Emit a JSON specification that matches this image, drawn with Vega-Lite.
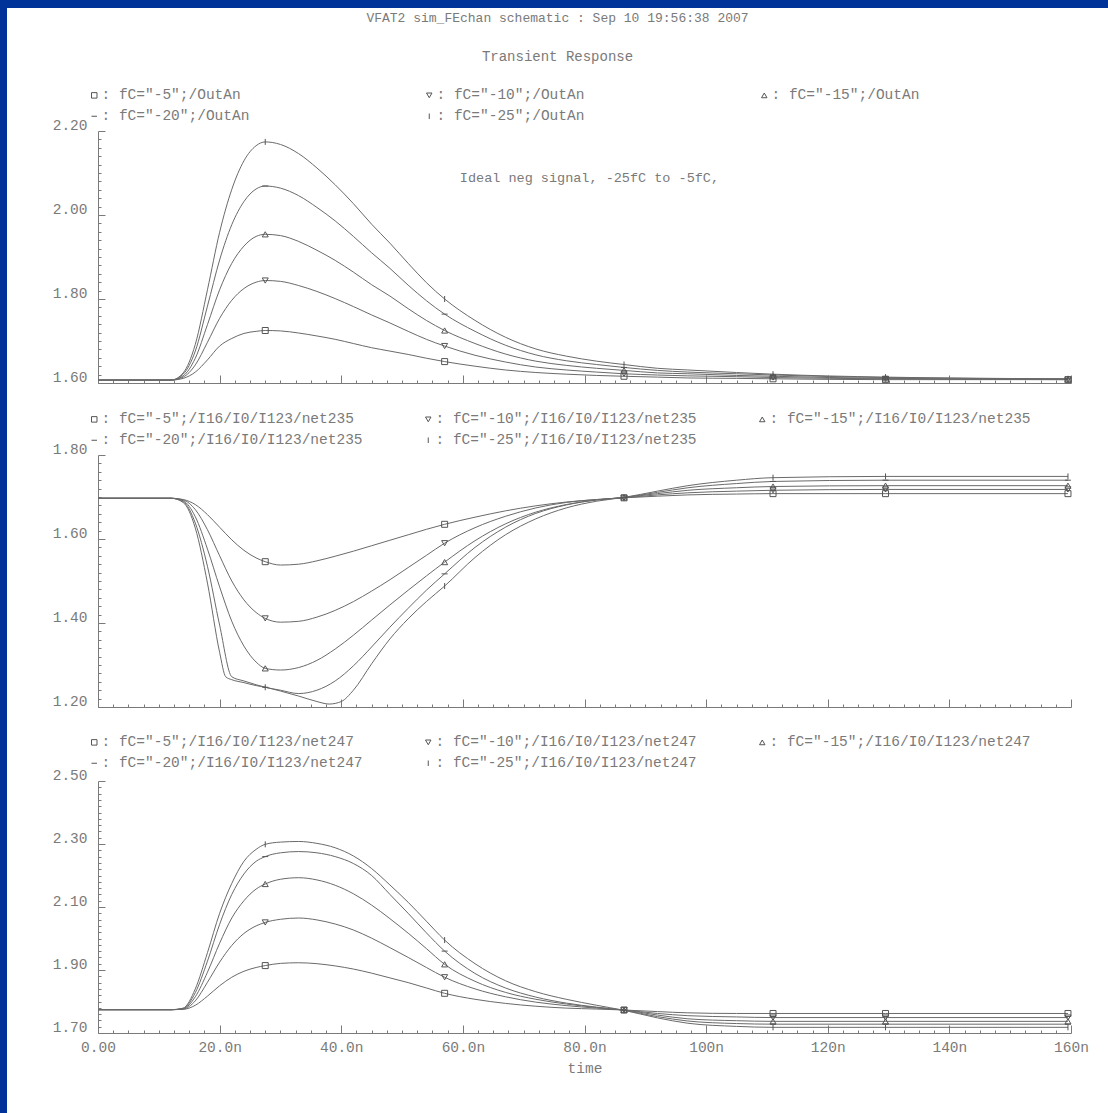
{
"$schema": "https://vega.github.io/schema/vega-lite/v6.json",
"width": 1101,
"height": 1105,
"autosize": {"type": "none"},
"padding": {"left": 7, "top": 8, "right": 0, "bottom": 0},
"background": "#003399",
"config": {
  "view": {"fill": "white", "stroke": null},
  "font": "Liberation Mono",
  "axis": {"domainColor": "#7a7a7a", "tickColor": "#7a7a7a", "labelColor": "#7a7a7a", "titleColor": "#7a7a7a", "labelFont": "Liberation Mono", "titleFont": "Liberation Mono", "labelFontSize": 14.5, "titleFontSize": 14.5, "titleFontWeight": "normal", "grid": false, "domainWidth": 1, "tickWidth": 1, "labelFlush": false, "labelOverlap": false, "labelBound": false},
  "legend": {"labelFont": "Liberation Mono", "labelFontSize": 14.5, "labelColor": "#7a7a7a", "padding": 0, "labelLimit": 0}
},
"title": {"text": "VFAT2 sim_FEchan schematic : Sep 10 19:56:38 2007", "subtitle": "Transient Response", "anchor": "middle", "orient": "top", "offset": -56, "frame": "group", "font": "Liberation Mono", "fontSize": 13, "fontWeight": "normal", "color": "#7a7a7a", "subtitleFont": "Liberation Mono", "subtitleFontSize": 14, "subtitleColor": "#7a7a7a", "subtitlePadding": 25},
"datasets": {
"curves": [
{"p":1,"q":5,"t":0,"v":1.607},{"p":1,"q":5,"t":12,"v":1.607},{"p":1,"q":5,"t":14,"v":1.611},{"p":1,"q":5,"t":16,"v":1.626},{"p":1,"q":5,"t":18,"v":1.655},{"p":1,"q":5,"t":20,"v":1.688},{"p":1,"q":5,"t":22,"v":1.706},{"p":1,"q":5,"t":24,"v":1.718},{"p":1,"q":5,"t":26,"v":1.723},{"p":1,"q":5,"t":27.5,"v":1.725},{"p":1,"q":5,"t":30,"v":1.724},{"p":1,"q":5,"t":33,"v":1.719},{"p":1,"q":5,"t":36,"v":1.712},{"p":1,"q":5,"t":39,"v":1.704},{"p":1,"q":5,"t":42,"v":1.694},{"p":1,"q":5,"t":45,"v":1.684},{"p":1,"q":5,"t":48,"v":1.676},{"p":1,"q":5,"t":51,"v":1.668},{"p":1,"q":5,"t":54,"v":1.659},{"p":1,"q":5,"t":57,"v":1.651},{"p":1,"q":5,"t":62,"v":1.640},{"p":1,"q":5,"t":67,"v":1.631},{"p":1,"q":5,"t":72,"v":1.625},{"p":1,"q":5,"t":77,"v":1.621},{"p":1,"q":5,"t":82,"v":1.618},{"p":1,"q":5,"t":86.5,"v":1.616},{"p":1,"q":5,"t":92,"v":1.614},{"p":1,"q":5,"t":97,"v":1.612},{"p":1,"q":5,"t":105,"v":1.611},{"p":1,"q":5,"t":111,"v":1.610},{"p":1,"q":5,"t":129.5,"v":1.608},{"p":1,"q":5,"t":159.5,"v":1.608},
{"p":1,"q":10,"t":0,"v":1.607},{"p":1,"q":10,"t":12,"v":1.607},{"p":1,"q":10,"t":14,"v":1.614},{"p":1,"q":10,"t":16,"v":1.643},{"p":1,"q":10,"t":18,"v":1.697},{"p":1,"q":10,"t":20,"v":1.754},{"p":1,"q":10,"t":22,"v":1.797},{"p":1,"q":10,"t":24,"v":1.825},{"p":1,"q":10,"t":26,"v":1.840},{"p":1,"q":10,"t":27.5,"v":1.844},{"p":1,"q":10,"t":30,"v":1.842},{"p":1,"q":10,"t":33,"v":1.832},{"p":1,"q":10,"t":36,"v":1.818},{"p":1,"q":10,"t":39,"v":1.801},{"p":1,"q":10,"t":42,"v":1.782},{"p":1,"q":10,"t":45,"v":1.762},{"p":1,"q":10,"t":48,"v":1.743},{"p":1,"q":10,"t":51,"v":1.723},{"p":1,"q":10,"t":54,"v":1.704},{"p":1,"q":10,"t":57,"v":1.688},{"p":1,"q":10,"t":62,"v":1.666},{"p":1,"q":10,"t":67,"v":1.650},{"p":1,"q":10,"t":72,"v":1.638},{"p":1,"q":10,"t":77,"v":1.631},{"p":1,"q":10,"t":82,"v":1.626},{"p":1,"q":10,"t":86.5,"v":1.622},{"p":1,"q":10,"t":92,"v":1.619},{"p":1,"q":10,"t":97,"v":1.617},{"p":1,"q":10,"t":105,"v":1.615},{"p":1,"q":10,"t":111,"v":1.613},{"p":1,"q":10,"t":129.5,"v":1.610},{"p":1,"q":10,"t":159.5,"v":1.608},
{"p":1,"q":15,"t":0,"v":1.607},{"p":1,"q":15,"t":12,"v":1.607},{"p":1,"q":15,"t":14,"v":1.617},{"p":1,"q":15,"t":16,"v":1.659},{"p":1,"q":15,"t":18,"v":1.739},{"p":1,"q":15,"t":20,"v":1.822},{"p":1,"q":15,"t":22,"v":1.885},{"p":1,"q":15,"t":24,"v":1.926},{"p":1,"q":15,"t":26,"v":1.949},{"p":1,"q":15,"t":27.5,"v":1.954},{"p":1,"q":15,"t":30,"v":1.951},{"p":1,"q":15,"t":33,"v":1.937},{"p":1,"q":15,"t":36,"v":1.916},{"p":1,"q":15,"t":39,"v":1.892},{"p":1,"q":15,"t":42,"v":1.864},{"p":1,"q":15,"t":45,"v":1.834},{"p":1,"q":15,"t":48,"v":1.807},{"p":1,"q":15,"t":51,"v":1.777},{"p":1,"q":15,"t":54,"v":1.749},{"p":1,"q":15,"t":57,"v":1.725},{"p":1,"q":15,"t":62,"v":1.694},{"p":1,"q":15,"t":67,"v":1.669},{"p":1,"q":15,"t":72,"v":1.652},{"p":1,"q":15,"t":77,"v":1.642},{"p":1,"q":15,"t":82,"v":1.635},{"p":1,"q":15,"t":86.5,"v":1.630},{"p":1,"q":15,"t":92,"v":1.624},{"p":1,"q":15,"t":97,"v":1.622},{"p":1,"q":15,"t":105,"v":1.618},{"p":1,"q":15,"t":111,"v":1.616},{"p":1,"q":15,"t":129.5,"v":1.611},{"p":1,"q":15,"t":159.5,"v":1.609},
{"p":1,"q":20,"t":0,"v":1.607},{"p":1,"q":20,"t":12,"v":1.607},{"p":1,"q":20,"t":14,"v":1.621},{"p":1,"q":20,"t":16,"v":1.676},{"p":1,"q":20,"t":18,"v":1.783},{"p":1,"q":20,"t":20,"v":1.893},{"p":1,"q":20,"t":22,"v":1.977},{"p":1,"q":20,"t":24,"v":2.032},{"p":1,"q":20,"t":26,"v":2.062},{"p":1,"q":20,"t":27.5,"v":2.069},{"p":1,"q":20,"t":30,"v":2.064},{"p":1,"q":20,"t":33,"v":2.046},{"p":1,"q":20,"t":36,"v":2.018},{"p":1,"q":20,"t":39,"v":1.986},{"p":1,"q":20,"t":42,"v":1.949},{"p":1,"q":20,"t":45,"v":1.910},{"p":1,"q":20,"t":48,"v":1.873},{"p":1,"q":20,"t":51,"v":1.833},{"p":1,"q":20,"t":54,"v":1.796},{"p":1,"q":20,"t":57,"v":1.764},{"p":1,"q":20,"t":62,"v":1.723},{"p":1,"q":20,"t":67,"v":1.690},{"p":1,"q":20,"t":72,"v":1.667},{"p":1,"q":20,"t":77,"v":1.653},{"p":1,"q":20,"t":82,"v":1.644},{"p":1,"q":20,"t":86.5,"v":1.637},{"p":1,"q":20,"t":92,"v":1.630},{"p":1,"q":20,"t":97,"v":1.626},{"p":1,"q":20,"t":105,"v":1.622},{"p":1,"q":20,"t":111,"v":1.619},{"p":1,"q":20,"t":129.5,"v":1.613},{"p":1,"q":20,"t":159.5,"v":1.610},
{"p":1,"q":25,"t":0,"v":1.607},{"p":1,"q":25,"t":12,"v":1.607},{"p":1,"q":25,"t":14,"v":1.624},{"p":1,"q":25,"t":16,"v":1.692},{"p":1,"q":25,"t":18,"v":1.822},{"p":1,"q":25,"t":20,"v":1.959},{"p":1,"q":25,"t":22,"v":2.061},{"p":1,"q":25,"t":24,"v":2.129},{"p":1,"q":25,"t":26,"v":2.165},{"p":1,"q":25,"t":27.5,"v":2.174},{"p":1,"q":25,"t":30,"v":2.168},{"p":1,"q":25,"t":33,"v":2.146},{"p":1,"q":25,"t":36,"v":2.112},{"p":1,"q":25,"t":39,"v":2.072},{"p":1,"q":25,"t":42,"v":2.027},{"p":1,"q":25,"t":45,"v":1.978},{"p":1,"q":25,"t":48,"v":1.933},{"p":1,"q":25,"t":51,"v":1.885},{"p":1,"q":25,"t":54,"v":1.839},{"p":1,"q":25,"t":57,"v":1.800},{"p":1,"q":25,"t":62,"v":1.749},{"p":1,"q":25,"t":67,"v":1.709},{"p":1,"q":25,"t":72,"v":1.681},{"p":1,"q":25,"t":77,"v":1.664},{"p":1,"q":25,"t":82,"v":1.652},{"p":1,"q":25,"t":86.5,"v":1.644},{"p":1,"q":25,"t":92,"v":1.635},{"p":1,"q":25,"t":97,"v":1.631},{"p":1,"q":25,"t":105,"v":1.625},{"p":1,"q":25,"t":111,"v":1.621},{"p":1,"q":25,"t":129.5,"v":1.614},{"p":1,"q":25,"t":159.5,"v":1.610},
{"p":2,"q":5,"t":0,"v":1.697},{"p":2,"q":5,"t":12,"v":1.697},{"p":2,"q":5,"t":14,"v":1.694},{"p":2,"q":5,"t":16,"v":1.682},{"p":2,"q":5,"t":18,"v":1.658},{"p":2,"q":5,"t":20,"v":1.628},{"p":2,"q":5,"t":22,"v":1.598},{"p":2,"q":5,"t":24,"v":1.573},{"p":2,"q":5,"t":26,"v":1.555},{"p":2,"q":5,"t":27.5,"v":1.546},{"p":2,"q":5,"t":30,"v":1.538},{"p":2,"q":5,"t":33,"v":1.540},{"p":2,"q":5,"t":36,"v":1.548},{"p":2,"q":5,"t":39,"v":1.559},{"p":2,"q":5,"t":42,"v":1.571},{"p":2,"q":5,"t":45,"v":1.584},{"p":2,"q":5,"t":48,"v":1.597},{"p":2,"q":5,"t":51,"v":1.610},{"p":2,"q":5,"t":54,"v":1.623},{"p":2,"q":5,"t":57,"v":1.635},{"p":2,"q":5,"t":62,"v":1.652},{"p":2,"q":5,"t":67,"v":1.667},{"p":2,"q":5,"t":72,"v":1.679},{"p":2,"q":5,"t":77,"v":1.688},{"p":2,"q":5,"t":82,"v":1.694},{"p":2,"q":5,"t":86.5,"v":1.698},{"p":2,"q":5,"t":92,"v":1.702},{"p":2,"q":5,"t":97,"v":1.705},{"p":2,"q":5,"t":105,"v":1.707},{"p":2,"q":5,"t":111,"v":1.708},{"p":2,"q":5,"t":129.5,"v":1.708},{"p":2,"q":5,"t":159.5,"v":1.708},
{"p":2,"q":10,"t":0,"v":1.697},{"p":2,"q":10,"t":12,"v":1.697},{"p":2,"q":10,"t":14,"v":1.693},{"p":2,"q":10,"t":16,"v":1.670},{"p":2,"q":10,"t":18,"v":1.622},{"p":2,"q":10,"t":20,"v":1.560},{"p":2,"q":10,"t":22,"v":1.500},{"p":2,"q":10,"t":24,"v":1.455},{"p":2,"q":10,"t":26,"v":1.425},{"p":2,"q":10,"t":27.5,"v":1.411},{"p":2,"q":10,"t":30,"v":1.402},{"p":2,"q":10,"t":33,"v":1.404},{"p":2,"q":10,"t":36,"v":1.414},{"p":2,"q":10,"t":39,"v":1.430},{"p":2,"q":10,"t":42,"v":1.451},{"p":2,"q":10,"t":45,"v":1.476},{"p":2,"q":10,"t":48,"v":1.503},{"p":2,"q":10,"t":51,"v":1.532},{"p":2,"q":10,"t":54,"v":1.561},{"p":2,"q":10,"t":57,"v":1.590},{"p":2,"q":10,"t":62,"v":1.627},{"p":2,"q":10,"t":67,"v":1.654},{"p":2,"q":10,"t":72,"v":1.674},{"p":2,"q":10,"t":77,"v":1.687},{"p":2,"q":10,"t":82,"v":1.694},{"p":2,"q":10,"t":86.5,"v":1.698},{"p":2,"q":10,"t":92,"v":1.705},{"p":2,"q":10,"t":97,"v":1.710},{"p":2,"q":10,"t":105,"v":1.714},{"p":2,"q":10,"t":111,"v":1.716},{"p":2,"q":10,"t":129.5,"v":1.718},{"p":2,"q":10,"t":159.5,"v":1.718},
{"p":2,"q":15,"t":0,"v":1.697},{"p":2,"q":15,"t":12,"v":1.697},{"p":2,"q":15,"t":14,"v":1.691},{"p":2,"q":15,"t":16,"v":1.653},{"p":2,"q":15,"t":18,"v":1.576},{"p":2,"q":15,"t":20,"v":1.486},{"p":2,"q":15,"t":22,"v":1.404},{"p":2,"q":15,"t":24,"v":1.345},{"p":2,"q":15,"t":26,"v":1.307},{"p":2,"q":15,"t":27.5,"v":1.292},{"p":2,"q":15,"t":30,"v":1.288},{"p":2,"q":15,"t":33,"v":1.294},{"p":2,"q":15,"t":36,"v":1.311},{"p":2,"q":15,"t":39,"v":1.338},{"p":2,"q":15,"t":42,"v":1.371},{"p":2,"q":15,"t":45,"v":1.407},{"p":2,"q":15,"t":48,"v":1.443},{"p":2,"q":15,"t":51,"v":1.478},{"p":2,"q":15,"t":54,"v":1.512},{"p":2,"q":15,"t":57,"v":1.545},{"p":2,"q":15,"t":62,"v":1.596},{"p":2,"q":15,"t":67,"v":1.636},{"p":2,"q":15,"t":72,"v":1.664},{"p":2,"q":15,"t":77,"v":1.682},{"p":2,"q":15,"t":82,"v":1.693},{"p":2,"q":15,"t":86.5,"v":1.699},{"p":2,"q":15,"t":92,"v":1.708},{"p":2,"q":15,"t":97,"v":1.716},{"p":2,"q":15,"t":105,"v":1.722},{"p":2,"q":15,"t":111,"v":1.725},{"p":2,"q":15,"t":129.5,"v":1.727},{"p":2,"q":15,"t":159.5,"v":1.727},
{"p":2,"q":20,"t":0,"v":1.697},{"p":2,"q":20,"t":12,"v":1.697},{"p":2,"q":20,"t":14,"v":1.689},{"p":2,"q":20,"t":16,"v":1.638},{"p":2,"q":20,"t":18,"v":1.535},{"p":2,"q":20,"t":20,"v":1.395},{"p":2,"q":20,"t":22,"v":1.272},{"p":2,"q":20,"t":24,"v":1.262},{"p":2,"q":20,"t":26,"v":1.253},{"p":2,"q":20,"t":27.5,"v":1.247},{"p":2,"q":20,"t":30,"v":1.240},{"p":2,"q":20,"t":33,"v":1.232},{"p":2,"q":20,"t":36,"v":1.240},{"p":2,"q":20,"t":39,"v":1.262},{"p":2,"q":20,"t":42,"v":1.298},{"p":2,"q":20,"t":45,"v":1.343},{"p":2,"q":20,"t":48,"v":1.390},{"p":2,"q":20,"t":51,"v":1.435},{"p":2,"q":20,"t":54,"v":1.478},{"p":2,"q":20,"t":57,"v":1.517},{"p":2,"q":20,"t":62,"v":1.580},{"p":2,"q":20,"t":67,"v":1.628},{"p":2,"q":20,"t":72,"v":1.661},{"p":2,"q":20,"t":77,"v":1.681},{"p":2,"q":20,"t":82,"v":1.693},{"p":2,"q":20,"t":86.5,"v":1.699},{"p":2,"q":20,"t":92,"v":1.711},{"p":2,"q":20,"t":97,"v":1.722},{"p":2,"q":20,"t":105,"v":1.732},{"p":2,"q":20,"t":111,"v":1.737},{"p":2,"q":20,"t":129.5,"v":1.740},{"p":2,"q":20,"t":159.5,"v":1.740},
{"p":2,"q":25,"t":0,"v":1.697},{"p":2,"q":25,"t":12,"v":1.697},{"p":2,"q":25,"t":14,"v":1.687},{"p":2,"q":25,"t":16,"v":1.626},{"p":2,"q":25,"t":18,"v":1.495},{"p":2,"q":25,"t":20,"v":1.330},{"p":2,"q":25,"t":21,"v":1.272},{"p":2,"q":25,"t":22,"v":1.265},{"p":2,"q":25,"t":24,"v":1.258},{"p":2,"q":25,"t":26,"v":1.251},{"p":2,"q":25,"t":27.5,"v":1.247},{"p":2,"q":25,"t":30,"v":1.238},{"p":2,"q":25,"t":33,"v":1.226},{"p":2,"q":25,"t":36,"v":1.213},{"p":2,"q":25,"t":38,"v":1.207},{"p":2,"q":25,"t":40,"v":1.213},{"p":2,"q":25,"t":42,"v":1.240},{"p":2,"q":25,"t":45,"v":1.303},{"p":2,"q":25,"t":48,"v":1.362},{"p":2,"q":25,"t":51,"v":1.410},{"p":2,"q":25,"t":54,"v":1.451},{"p":2,"q":25,"t":57,"v":1.488},{"p":2,"q":25,"t":62,"v":1.556},{"p":2,"q":25,"t":67,"v":1.610},{"p":2,"q":25,"t":72,"v":1.648},{"p":2,"q":25,"t":77,"v":1.674},{"p":2,"q":25,"t":82,"v":1.690},{"p":2,"q":25,"t":86.5,"v":1.699},{"p":2,"q":25,"t":92,"v":1.714},{"p":2,"q":25,"t":97,"v":1.727},{"p":2,"q":25,"t":105,"v":1.740},{"p":2,"q":25,"t":111,"v":1.746},{"p":2,"q":25,"t":129.5,"v":1.749},{"p":2,"q":25,"t":159.5,"v":1.749},
{"p":3,"q":5,"t":0,"v":1.774},{"p":3,"q":5,"t":12,"v":1.774},{"p":3,"q":5,"t":14,"v":1.775},{"p":3,"q":5,"t":16,"v":1.788},{"p":3,"q":5,"t":18,"v":1.817},{"p":3,"q":5,"t":20,"v":1.850},{"p":3,"q":5,"t":22,"v":1.877},{"p":3,"q":5,"t":24,"v":1.896},{"p":3,"q":5,"t":26,"v":1.908},{"p":3,"q":5,"t":27.5,"v":1.914},{"p":3,"q":5,"t":30,"v":1.921},{"p":3,"q":5,"t":33,"v":1.923},{"p":3,"q":5,"t":36,"v":1.920},{"p":3,"q":5,"t":39,"v":1.913},{"p":3,"q":5,"t":42,"v":1.903},{"p":3,"q":5,"t":45,"v":1.890},{"p":3,"q":5,"t":48,"v":1.875},{"p":3,"q":5,"t":51,"v":1.860},{"p":3,"q":5,"t":54,"v":1.843},{"p":3,"q":5,"t":57,"v":1.826},{"p":3,"q":5,"t":62,"v":1.807},{"p":3,"q":5,"t":67,"v":1.794},{"p":3,"q":5,"t":72,"v":1.785},{"p":3,"q":5,"t":77,"v":1.779},{"p":3,"q":5,"t":82,"v":1.776},{"p":3,"q":5,"t":86.5,"v":1.773},{"p":3,"q":5,"t":92,"v":1.768},{"p":3,"q":5,"t":97,"v":1.764},{"p":3,"q":5,"t":105,"v":1.762},{"p":3,"q":5,"t":111,"v":1.762},{"p":3,"q":5,"t":129.5,"v":1.762},{"p":3,"q":5,"t":159.5,"v":1.762},
{"p":3,"q":10,"t":0,"v":1.774},{"p":3,"q":10,"t":12,"v":1.774},{"p":3,"q":10,"t":14,"v":1.776},{"p":3,"q":10,"t":16,"v":1.802},{"p":3,"q":10,"t":18,"v":1.861},{"p":3,"q":10,"t":20,"v":1.925},{"p":3,"q":10,"t":22,"v":1.978},{"p":3,"q":10,"t":24,"v":2.016},{"p":3,"q":10,"t":26,"v":2.040},{"p":3,"q":10,"t":27.5,"v":2.051},{"p":3,"q":10,"t":30,"v":2.061},{"p":3,"q":10,"t":33,"v":2.065},{"p":3,"q":10,"t":36,"v":2.059},{"p":3,"q":10,"t":39,"v":2.046},{"p":3,"q":10,"t":42,"v":2.027},{"p":3,"q":10,"t":45,"v":2.001},{"p":3,"q":10,"t":48,"v":1.971},{"p":3,"q":10,"t":51,"v":1.940},{"p":3,"q":10,"t":54,"v":1.908},{"p":3,"q":10,"t":57,"v":1.877},{"p":3,"q":10,"t":62,"v":1.840},{"p":3,"q":10,"t":67,"v":1.815},{"p":3,"q":10,"t":72,"v":1.798},{"p":3,"q":10,"t":77,"v":1.787},{"p":3,"q":10,"t":82,"v":1.779},{"p":3,"q":10,"t":86.5,"v":1.773},{"p":3,"q":10,"t":92,"v":1.762},{"p":3,"q":10,"t":97,"v":1.755},{"p":3,"q":10,"t":105,"v":1.751},{"p":3,"q":10,"t":111,"v":1.749},{"p":3,"q":10,"t":129.5,"v":1.749},{"p":3,"q":10,"t":159.5,"v":1.749},
{"p":3,"q":15,"t":0,"v":1.774},{"p":3,"q":15,"t":12,"v":1.774},{"p":3,"q":15,"t":14,"v":1.777},{"p":3,"q":15,"t":16,"v":1.815},{"p":3,"q":15,"t":18,"v":1.893},{"p":3,"q":15,"t":20,"v":1.985},{"p":3,"q":15,"t":22,"v":2.065},{"p":3,"q":15,"t":24,"v":2.120},{"p":3,"q":15,"t":26,"v":2.157},{"p":3,"q":15,"t":27.5,"v":2.173},{"p":3,"q":15,"t":30,"v":2.188},{"p":3,"q":15,"t":33,"v":2.193},{"p":3,"q":15,"t":36,"v":2.186},{"p":3,"q":15,"t":39,"v":2.169},{"p":3,"q":15,"t":42,"v":2.142},{"p":3,"q":15,"t":45,"v":2.106},{"p":3,"q":15,"t":48,"v":2.063},{"p":3,"q":15,"t":51,"v":2.017},{"p":3,"q":15,"t":54,"v":1.968},{"p":3,"q":15,"t":57,"v":1.918},{"p":3,"q":15,"t":62,"v":1.864},{"p":3,"q":15,"t":67,"v":1.829},{"p":3,"q":15,"t":72,"v":1.807},{"p":3,"q":15,"t":77,"v":1.792},{"p":3,"q":15,"t":82,"v":1.781},{"p":3,"q":15,"t":86.5,"v":1.773},{"p":3,"q":15,"t":92,"v":1.757},{"p":3,"q":15,"t":97,"v":1.745},{"p":3,"q":15,"t":105,"v":1.739},{"p":3,"q":15,"t":111,"v":1.737},{"p":3,"q":15,"t":129.5,"v":1.737},{"p":3,"q":15,"t":159.5,"v":1.737},
{"p":3,"q":20,"t":0,"v":1.774},{"p":3,"q":20,"t":12,"v":1.774},{"p":3,"q":20,"t":14,"v":1.778},{"p":3,"q":20,"t":16,"v":1.828},{"p":3,"q":20,"t":18,"v":1.928},{"p":3,"q":20,"t":20,"v":2.045},{"p":3,"q":20,"t":22,"v":2.140},{"p":3,"q":20,"t":24,"v":2.205},{"p":3,"q":20,"t":26,"v":2.245},{"p":3,"q":20,"t":27.5,"v":2.260},{"p":3,"q":20,"t":30,"v":2.272},{"p":3,"q":20,"t":33,"v":2.276},{"p":3,"q":20,"t":36,"v":2.272},{"p":3,"q":20,"t":39,"v":2.260},{"p":3,"q":20,"t":42,"v":2.238},{"p":3,"q":20,"t":45,"v":2.200},{"p":3,"q":20,"t":48,"v":2.140},{"p":3,"q":20,"t":51,"v":2.080},{"p":3,"q":20,"t":54,"v":2.018},{"p":3,"q":20,"t":57,"v":1.960},{"p":3,"q":20,"t":62,"v":1.889},{"p":3,"q":20,"t":67,"v":1.843},{"p":3,"q":20,"t":72,"v":1.814},{"p":3,"q":20,"t":77,"v":1.795},{"p":3,"q":20,"t":82,"v":1.782},{"p":3,"q":20,"t":86.5,"v":1.772},{"p":3,"q":20,"t":92,"v":1.752},{"p":3,"q":20,"t":97,"v":1.738},{"p":3,"q":20,"t":105,"v":1.730},{"p":3,"q":20,"t":111,"v":1.728},{"p":3,"q":20,"t":129.5,"v":1.728},{"p":3,"q":20,"t":159.5,"v":1.728},
{"p":3,"q":25,"t":0,"v":1.774},{"p":3,"q":25,"t":12,"v":1.774},{"p":3,"q":25,"t":14,"v":1.779},{"p":3,"q":25,"t":16,"v":1.840},{"p":3,"q":25,"t":18,"v":1.955},{"p":3,"q":25,"t":20,"v":2.080},{"p":3,"q":25,"t":22,"v":2.175},{"p":3,"q":25,"t":24,"v":2.245},{"p":3,"q":25,"t":26,"v":2.283},{"p":3,"q":25,"t":27.5,"v":2.299},{"p":3,"q":25,"t":30,"v":2.306},{"p":3,"q":25,"t":33,"v":2.308},{"p":3,"q":25,"t":36,"v":2.302},{"p":3,"q":25,"t":39,"v":2.288},{"p":3,"q":25,"t":42,"v":2.262},{"p":3,"q":25,"t":45,"v":2.222},{"p":3,"q":25,"t":48,"v":2.170},{"p":3,"q":25,"t":51,"v":2.115},{"p":3,"q":25,"t":54,"v":2.055},{"p":3,"q":25,"t":57,"v":1.995},{"p":3,"q":25,"t":62,"v":1.920},{"p":3,"q":25,"t":67,"v":1.866},{"p":3,"q":25,"t":72,"v":1.831},{"p":3,"q":25,"t":77,"v":1.807},{"p":3,"q":25,"t":82,"v":1.788},{"p":3,"q":25,"t":86.5,"v":1.772},{"p":3,"q":25,"t":92,"v":1.748},{"p":3,"q":25,"t":97,"v":1.731},{"p":3,"q":25,"t":105,"v":1.721},{"p":3,"q":25,"t":111,"v":1.718},{"p":3,"q":25,"t":129.5,"v":1.718},{"p":3,"q":25,"t":159.5,"v":1.718}
]
},
"layer": [
{
  "data": {"name": "curves"},
  "encoding": {
    "x": {"field": "t", "type": "quantitative", "scale": {"domain": [0, 160], "range": [91, 1064], "nice": false, "zero": false},
      "axis": {"orient": "bottom", "offset": -730, "labels": false, "title": null,
        "values": [0,2.5,5,7.5,10,12.5,15,17.5,20,22.5,25,27.5,30,32.5,35,37.5,40,42.5,45,47.5,50,52.5,55,57.5,60,62.5,65,67.5,70,72.5,75,77.5,80,82.5,85,87.5,90,92.5,95,97.5,100,102.5,105,107.5,110,112.5,115,117.5,120,122.5,125,127.5,130,132.5,135,137.5,140,142.5,145,147.5,150,152.5,155,157.5,160],
        "tickSize": {"condition": {"test": "datum.value % 20 == 0", "value": -8}, "value": -3}}},
    "y": {"field": "v", "type": "quantitative", "scale": {"domain": [1.6, 2.2], "range": [375, 123], "nice": false, "zero": false},
      "axis": {"orient": "left", "offset": -91, "title": null, "labelPadding": 18, "labelOffset": -6,
        "values": [1.6,1.62,1.64,1.66,1.68,1.7,1.72,1.74,1.76,1.78,1.8,1.82,1.84,1.86,1.88,1.9,1.92,1.94,1.96,1.98,2,2.02,2.04,2.06,2.08,2.1,2.12,2.14,2.16,2.18,2.2],
        "labelExpr": "abs(datum.value*5 - round(datum.value*5)) < 0.001 ? format(datum.value, '.2f') : ''",
        "tickSize": {"condition": {"test": "abs(datum.value*5 - round(datum.value*5)) < 0.001", "value": -7}, "value": -3}}}
  },
  "layer": [
    {"transform": [{"filter": "datum.p == 1"}], "mark": {"type": "line", "color": "#6a6a6a", "strokeWidth": 1, "interpolate": "monotone"}, "encoding": {"detail": {"field": "q", "type": "nominal"}}},
    {"transform": [{"filter": "datum.p == 1"}, {"filter": {"field": "t", "oneOf": [27.5, 57, 86.5, 111, 129.5, 159.5]}}],
     "mark": {"type": "point", "filled": false, "color": "#555555", "strokeWidth": 1, "size": 36, "opacity": 1},
     "encoding": {"shape": {"field": "q", "type": "nominal",
        "scale": {"domain": [5, 20, 10, 25, 15], "range": ["square", "M-1,0L1,0", "triangle-down", "M0,-1L0,1", "triangle-up"]},
        "legend": {"orient": "none", "legendX": 80, "legendY": 80, "columns": 3, "title": null, "columnPadding": 172, "rowPadding": 6, "symbolSize": 30, "symbolStrokeColor": "#555555", "symbolFillColor": "transparent", "symbolStrokeWidth": 1, "labelOffset": 0,
          "labelExpr": "': fC=\"-' + datum.label + '\";/OutAn'"}}}},
    {"data": {"values": [{"t": 59.5, "v": 2.088, "txt": "Ideal neg signal, -25fC to -5fC,"}]},
     "mark": {"type": "text", "align": "left", "baseline": "middle", "font": "Liberation Mono", "fontSize": 13.5, "color": "#7a7a7a"},
     "encoding": {"text": {"field": "txt", "type": "nominal"}}}
  ]
},
{
  "data": {"name": "curves"},
  "encoding": {
    "x": {"field": "t", "type": "quantitative", "scale": {"domain": [0, 160], "range": [91, 1064], "nice": false, "zero": false},
      "axis": {"orient": "bottom", "offset": -406, "labels": false, "title": null,
        "values": [0,2.5,5,7.5,10,12.5,15,17.5,20,22.5,25,27.5,30,32.5,35,37.5,40,42.5,45,47.5,50,52.5,55,57.5,60,62.5,65,67.5,70,72.5,75,77.5,80,82.5,85,87.5,90,92.5,95,97.5,100,102.5,105,107.5,110,112.5,115,117.5,120,122.5,125,127.5,130,132.5,135,137.5,140,142.5,145,147.5,150,152.5,155,157.5,160],
        "tickSize": {"condition": {"test": "datum.value % 20 == 0", "value": -8}, "value": -3}}},
    "y": {"field": "v", "type": "quantitative", "scale": {"domain": [1.2, 1.8], "range": [699, 447], "nice": false, "zero": false},
      "axis": {"orient": "left", "offset": -91, "title": null, "labelPadding": 18, "labelOffset": -6,
        "values": [1.2,1.22,1.24,1.26,1.28,1.3,1.32,1.34,1.36,1.38,1.4,1.42,1.44,1.46,1.48,1.5,1.52,1.54,1.56,1.58,1.6,1.62,1.64,1.66,1.68,1.7,1.72,1.74,1.76,1.78,1.8],
        "labelExpr": "abs(datum.value*5 - round(datum.value*5)) < 0.001 ? format(datum.value, '.2f') : ''",
        "tickSize": {"condition": {"test": "abs(datum.value*5 - round(datum.value*5)) < 0.001", "value": -7}, "value": -3}}}
  },
  "layer": [
    {"transform": [{"filter": "datum.p == 2"}], "mark": {"type": "line", "color": "#6a6a6a", "strokeWidth": 1, "interpolate": "monotone"}, "encoding": {"detail": {"field": "q", "type": "nominal"}}},
    {"transform": [{"filter": "datum.p == 2"}, {"filter": {"field": "t", "oneOf": [27.5, 57, 86.5, 111, 129.5, 159.5]}}],
     "mark": {"type": "point", "filled": false, "color": "#555555", "strokeWidth": 1, "size": 36, "opacity": 1},
     "encoding": {"shape": {"field": "q", "type": "nominal",
        "scale": {"domain": [5, 20, 10, 25, 15], "range": ["square", "M-1,0L1,0", "triangle-down", "M0,-1L0,1", "triangle-up"]},
        "legend": {"orient": "none", "legendX": 80, "legendY": 404, "columns": 3, "title": null, "columnPadding": 58, "rowPadding": 6, "symbolSize": 30, "symbolStrokeColor": "#555555", "symbolFillColor": "transparent", "symbolStrokeWidth": 1, "labelOffset": 0,
          "labelExpr": "': fC=\"-' + datum.label + '\";/I16/I0/I123/net235'"}}}}
  ]
},
{
  "data": {"name": "curves"},
  "encoding": {
    "x": {"field": "t", "type": "quantitative", "scale": {"domain": [0, 160], "range": [91, 1064], "nice": false, "zero": false},
      "axis": {"orient": "bottom", "offset": -80, "title": "time", "labelPadding": 15, "titlePadding": 3,
        "values": [0,2.5,5,7.5,10,12.5,15,17.5,20,22.5,25,27.5,30,32.5,35,37.5,40,42.5,45,47.5,50,52.5,55,57.5,60,62.5,65,67.5,70,72.5,75,77.5,80,82.5,85,87.5,90,92.5,95,97.5,100,102.5,105,107.5,110,112.5,115,117.5,120,122.5,125,127.5,130,132.5,135,137.5,140,142.5,145,147.5,150,152.5,155,157.5,160],
        "labelExpr": "datum.value % 20 == 0 ? (datum.value == 0 ? '0.00' : (datum.value < 100 ? format(datum.value, '.1f') + 'n' : datum.value + 'n')) : ''",
        "tickSize": {"condition": {"test": "datum.value % 20 == 0", "value": -8}, "value": -3}}},
    "y": {"field": "v", "type": "quantitative", "scale": {"domain": [1.7, 2.5], "range": [1025, 773], "nice": false, "zero": false},
      "axis": {"orient": "left", "offset": -91, "title": null, "labelPadding": 18, "labelOffset": -6,
        "values": [1.7,1.72,1.74,1.76,1.78,1.8,1.82,1.84,1.86,1.88,1.9,1.92,1.94,1.96,1.98,2,2.02,2.04,2.06,2.08,2.1,2.12,2.14,2.16,2.18,2.2,2.22,2.24,2.26,2.28,2.3,2.32,2.34,2.36,2.38,2.4,2.42,2.44,2.46,2.48,2.5],
        "labelExpr": "abs((datum.value-1.7)*5 - round((datum.value-1.7)*5)) < 0.001 ? format(datum.value, '.2f') : ''",
        "tickSize": {"condition": {"test": "abs((datum.value-1.7)*5 - round((datum.value-1.7)*5)) < 0.001", "value": -7}, "value": -3}}}
  },
  "layer": [
    {"transform": [{"filter": "datum.p == 3"}], "mark": {"type": "line", "color": "#6a6a6a", "strokeWidth": 1, "interpolate": "monotone"}, "encoding": {"detail": {"field": "q", "type": "nominal"}}},
    {"transform": [{"filter": "datum.p == 3"}, {"filter": {"field": "t", "oneOf": [27.5, 57, 86.5, 111, 129.5, 159.5]}}],
     "mark": {"type": "point", "filled": false, "color": "#555555", "strokeWidth": 1, "size": 36, "opacity": 1},
     "encoding": {"shape": {"field": "q", "type": "nominal",
        "scale": {"domain": [5, 20, 10, 25, 15], "range": ["square", "M-1,0L1,0", "triangle-down", "M0,-1L0,1", "triangle-up"]},
        "legend": {"orient": "none", "legendX": 80, "legendY": 727, "columns": 3, "title": null, "columnPadding": 58, "rowPadding": 6, "symbolSize": 30, "symbolStrokeColor": "#555555", "symbolFillColor": "transparent", "symbolStrokeWidth": 1, "labelOffset": 0,
          "labelExpr": "': fC=\"-' + datum.label + '\";/I16/I0/I123/net247'"}}}}
  ]
}
],
"resolve": {"scale": {"x": "independent", "y": "independent", "shape": "independent"}}
}
